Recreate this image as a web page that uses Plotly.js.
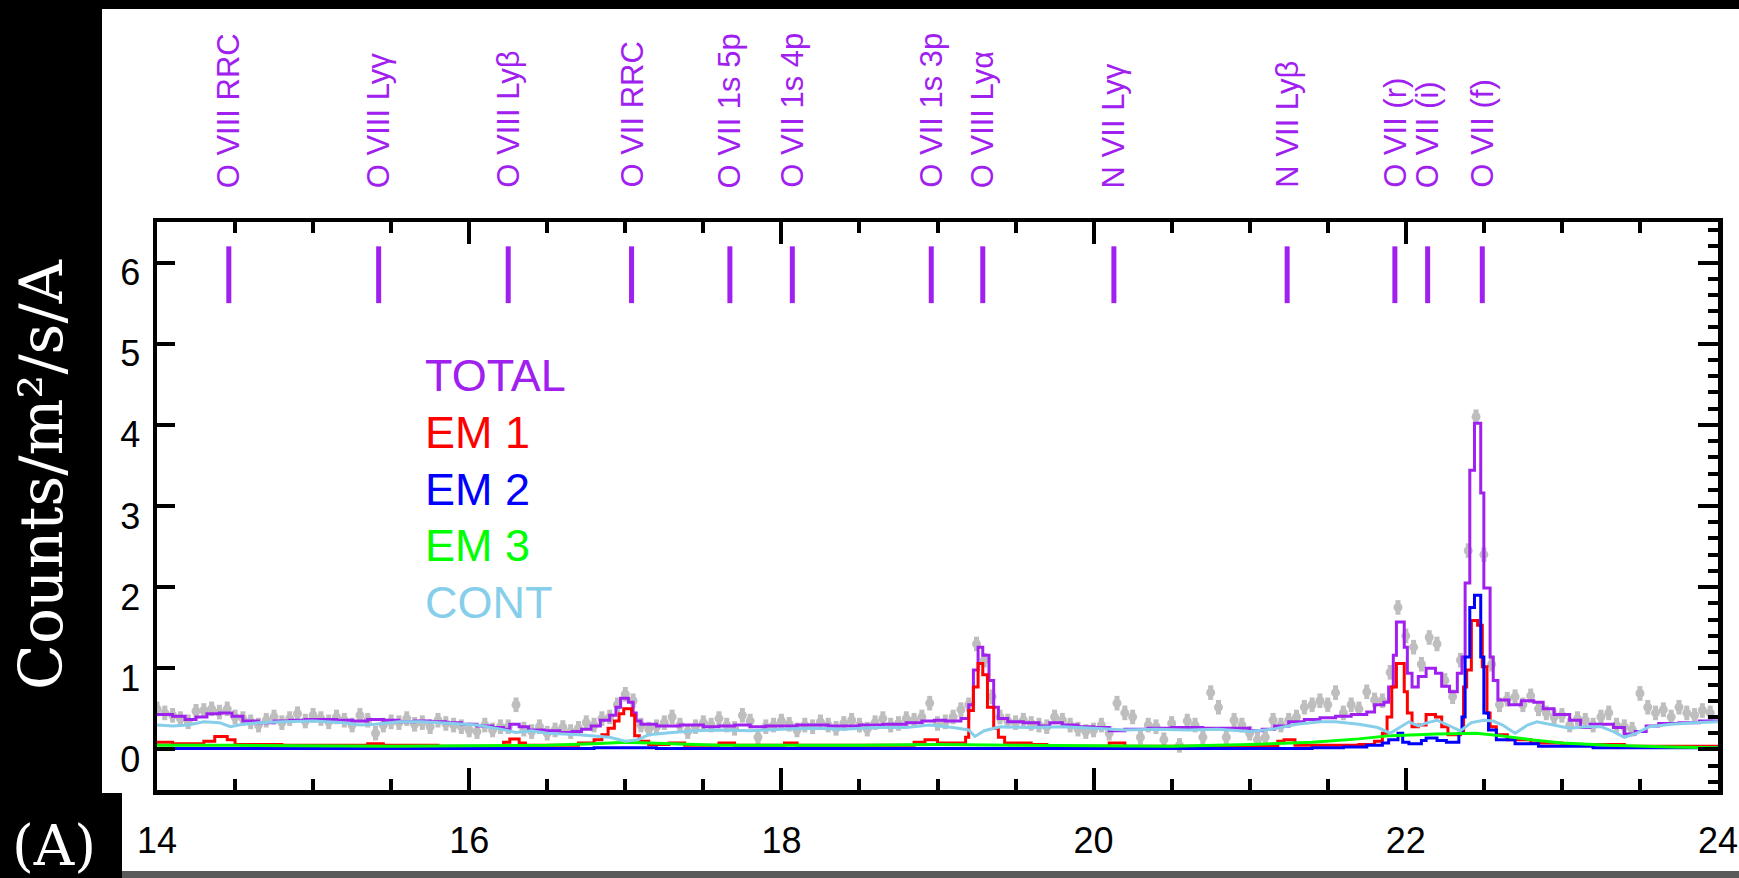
<!DOCTYPE html>
<html>
<head>
<meta charset="utf-8">
<script src="https://cdn.plot.ly/plotly-3.0.1.min.js"></script>
<style>html,body{margin:0;padding:0;background:#000;}#chart{width:1739px;height:878px;}</style>
</head>
<body>
<div id="chart"></div>
<script>
// ---------------- DATA ----------------
const lineNames = ['O VIII RRC','O VIII Lyγ','O VIII Lyβ','O VII RRC','O VII 1s 5p','O VII 1s 4p','O VII 1s 3p','O VIII Lyα','N VII Lyγ','N VII Lyβ','O VII (r)','O VII (i)','O VII (f)'];
const lineWave = [14.46,15.42,16.25,17.04,17.67,18.07,18.96,19.29,20.13,21.24,21.93,22.14,22.49];

const legendLabels = ['TOTAL','EM 1','EM 2','EM 3','CONT'];

// observed spectrum (grey points)
const dataX = [14.00,14.05,14.10,14.15,14.20,14.25,14.30,14.35,14.40,14.45,14.50,14.55,14.60,14.65,14.70,14.75,14.80,14.85,14.90,14.95,
15.00,15.05,15.10,15.15,15.20,15.25,15.30,15.35,15.40,15.45,15.50,15.55,15.60,15.65,15.70,15.75,15.80,15.85,15.90,15.95,
16.00,16.05,16.10,16.15,16.20,16.25,16.30,16.35,16.40,16.45,16.50,16.55,16.60,16.65,16.70,16.75,16.80,16.85,16.90,16.95,
17.00,17.05,17.10,17.15,17.20,17.25,17.30,17.35,17.40,17.45,17.50,17.55,17.60,17.65,17.70,17.75,17.80,17.85,17.90,17.95,
18.00,18.05,18.10,18.15,18.20,18.25,18.30,18.35,18.40,18.45,18.50,18.55,18.60,18.65,18.70,18.75,18.80,18.85,18.90,18.95,
19.00,19.05,19.10,19.15,19.20,19.25,19.30,19.35,19.40,19.45,19.50,19.55,19.60,19.65,19.70,19.75,19.80,19.85,19.90,19.95,
20.00,20.05,20.10,20.15,20.20,20.25,20.30,20.35,20.40,20.45,20.50,20.55,20.60,20.65,20.70,20.75,20.80,20.85,20.90,20.95,
21.00,21.05,21.10,21.15,21.20,21.25,21.30,21.35,21.40,21.45,21.50,21.55,21.60,21.65,21.70,21.75,21.80,21.85,21.90,21.95,
22.00,22.05,22.10,22.15,22.20,22.25,22.30,22.35,22.40,22.45,22.50,22.55,22.60,22.65,22.70,22.75,22.80,22.85,22.90,22.95,
23.00,23.05,23.10,23.15,23.20,23.25,23.30,23.35,23.40,23.45,23.50,23.55,23.60,23.65,23.70,23.75,23.80,23.85,23.90,23.95];
const dataY = [0.50,0.45,0.42,0.38,0.34,0.47,0.48,0.50,0.46,0.50,0.40,0.38,0.34,0.30,0.36,0.40,0.33,0.38,0.44,0.35,
0.42,0.38,0.34,0.40,0.36,0.30,0.42,0.36,0.20,0.30,0.34,0.33,0.38,0.31,0.33,0.28,0.36,0.32,0.30,0.28,
0.24,0.22,0.30,0.24,0.28,0.28,0.55,0.25,0.22,0.28,0.20,0.24,0.27,0.22,0.26,0.33,0.30,0.38,0.40,0.55,
0.68,0.60,0.30,0.25,0.28,0.33,0.40,0.30,0.22,0.28,0.33,0.30,0.38,0.30,0.26,0.42,0.35,0.15,0.28,0.30,
0.35,0.31,0.24,0.30,0.28,0.34,0.30,0.26,0.32,0.36,0.30,0.25,0.33,0.38,0.30,0.32,0.38,0.36,0.40,0.57,
0.32,0.34,0.40,0.49,0.55,1.30,1.10,0.65,0.40,0.35,0.33,0.36,0.32,0.30,0.28,0.40,0.36,0.30,0.25,0.22,
0.24,0.30,0.20,0.57,0.45,0.40,0.15,0.30,0.28,0.12,0.32,0.05,0.35,0.30,0.15,0.70,0.52,0.15,0.36,0.30,
0.20,0.12,0.15,0.36,0.30,0.36,0.40,0.52,0.55,0.60,0.55,0.70,0.45,0.55,0.50,0.71,0.61,0.60,0.95,1.75,
1.40,1.26,1.05,1.38,1.30,0.85,0.65,1.10,2.45,4.10,2.40,1.05,0.55,0.62,0.65,0.55,0.66,0.50,0.45,0.40,
0.42,0.30,0.38,0.36,0.30,0.40,0.45,0.30,0.28,0.25,0.69,0.52,0.45,0.49,0.40,0.52,0.45,0.42,0.48,0.45];
const dataErr = 0.09;

// TOTAL model (step)
const totalX = [14.00,14.10,14.18,14.25,14.32,14.40,14.48,14.55,14.65,14.75,14.85,14.95,15.05,15.15,15.25,15.35,15.45,15.55,15.65,15.75,15.85,15.95,
16.05,16.15,16.22,16.26,16.32,16.38,16.48,16.58,16.66,16.72,16.78,16.84,16.90,16.94,16.97,17.02,17.05,17.07,17.10,17.20,17.35,17.50,17.60,17.70,17.80,17.90,
18.00,18.10,18.30,18.50,18.65,18.80,18.90,18.98,19.05,19.15,19.20,19.23,19.26,19.29,19.33,19.36,19.39,19.45,19.55,19.65,19.72,19.80,19.90,
20.00,20.10,20.20,20.35,20.50,20.70,20.90,21.00,21.08,21.16,21.25,21.35,21.45,21.55,21.65,21.75,21.80,21.86,21.89,21.92,21.94,21.99,
22.01,22.04,22.08,22.13,22.19,22.23,22.28,22.33,22.36,22.38,22.41,22.44,22.48,22.50,22.54,22.56,22.59,22.66,22.74,22.82,22.88,22.95,
23.05,23.12,23.18,23.25,23.33,23.40,23.47,23.54,23.62,23.75,23.88,24.00];
const totalY = [0.43,0.41,0.37,0.40,0.44,0.45,0.41,0.35,0.33,0.35,0.36,0.37,0.37,0.36,0.35,0.37,0.36,0.34,0.35,0.34,0.33,0.31,
0.29,0.27,0.25,0.31,0.28,0.24,0.23,0.21,0.22,0.25,0.29,0.36,0.42,0.52,0.63,0.58,0.45,0.35,0.31,0.29,0.30,0.28,0.29,0.30,0.28,0.29,
0.29,0.30,0.29,0.30,0.31,0.33,0.35,0.36,0.35,0.38,0.55,0.98,1.26,1.16,0.85,0.52,0.38,0.34,0.33,0.29,0.33,0.30,0.28,
0.27,0.23,0.25,0.26,0.27,0.26,0.26,0.23,0.25,0.29,0.34,0.37,0.39,0.41,0.43,0.46,0.55,0.58,0.77,1.16,1.57,1.26,
0.94,0.77,0.90,1.00,0.94,0.78,0.71,0.94,1.14,2.05,3.44,4.02,3.16,1.99,1.14,0.85,0.61,0.55,0.60,0.58,0.50,0.43,
0.36,0.27,0.31,0.31,0.27,0.19,0.22,0.29,0.32,0.33,0.35,0.35];

// EM 1 (step)
const em1X = [14.00,14.10,14.30,14.37,14.45,14.50,14.80,15.35,15.45,15.80,16.22,16.26,16.32,16.36,16.70,16.80,16.85,16.89,16.93,16.96,16.99,17.04,17.06,17.09,17.15,
17.28,17.38,17.60,17.70,18.02,18.10,18.85,18.92,19.00,19.18,19.20,19.23,19.26,19.29,19.32,19.36,19.39,19.43,19.60,19.70,20.10,20.20,21.18,21.22,21.29,
21.70,21.80,21.85,21.88,21.91,21.94,21.99,22.01,22.04,22.08,22.13,22.19,22.23,22.27,22.35,22.37,22.39,22.42,22.46,22.49,22.52,22.54,22.58,22.65,22.80,
23.00,23.40,24.00];
const em1Y = [0.09,0.07,0.10,0.16,0.12,0.06,0.05,0.07,0.05,0.04,0.09,0.13,0.08,0.05,0.08,0.12,0.18,0.26,0.35,0.44,0.50,0.42,0.17,0.10,0.06,
0.08,0.05,0.08,0.05,0.08,0.05,0.09,0.12,0.08,0.15,0.48,0.77,1.06,0.92,0.52,0.26,0.15,0.08,0.06,0.04,0.08,0.04,0.10,0.12,0.05,
0.06,0.10,0.20,0.40,0.77,1.06,0.71,0.45,0.28,0.30,0.43,0.40,0.28,0.18,0.22,0.77,0.98,1.59,1.53,1.02,0.45,0.28,0.18,0.12,0.08,
0.06,0.04,0.03];

// EM 2 (step)
const em2X = [14.00,16.80,17.20,21.40,21.60,21.75,21.85,21.89,21.95,21.98,22.02,22.10,22.13,22.20,22.26,22.34,22.36,22.38,22.41,22.44,22.48,22.50,22.53,22.58,22.70,22.85,23.20,24.00];
const em2Y = [0.01,0.02,0.01,0.02,0.03,0.05,0.08,0.12,0.20,0.09,0.07,0.11,0.14,0.11,0.09,0.20,0.40,1.14,1.75,1.90,1.14,0.45,0.24,0.12,0.07,0.04,0.02,0.01];

// EM 3 (smooth)
const em3X = [14.00,14.50,15.50,16.50,16.80,17.00,17.30,17.60,18.50,19.00,19.50,20.50,21.00,21.40,21.70,21.90,22.20,22.45,22.60,22.80,23.00,23.30,23.70,24.00];
const em3Y = [0.05,0.05,0.04,0.05,0.07,0.09,0.07,0.05,0.05,0.06,0.05,0.04,0.06,0.09,0.13,0.17,0.19,0.20,0.17,0.12,0.08,0.05,0.03,0.02];

// CONT
const contX = [14.00,14.10,14.20,14.30,14.40,14.47,14.55,14.65,14.80,15.00,15.20,15.30,15.40,15.55,15.70,15.90,16.05,16.20,16.30,16.40,16.50,16.70,16.90,17.00,17.08,
17.15,17.30,17.45,17.60,17.80,18.00,18.20,18.40,18.60,18.80,18.95,19.10,19.20,19.24,19.30,19.40,19.60,19.80,20.00,20.20,20.40,20.60,20.80,21.00,21.15,
21.30,21.45,21.55,21.70,21.82,21.90,21.96,22.02,22.08,22.14,22.20,22.28,22.35,22.42,22.50,22.56,22.62,22.70,22.78,22.84,22.94,23.05,23.15,23.25,23.33,
23.40,23.48,23.56,23.70,23.85,24.00];
const contY = [0.30,0.29,0.30,0.34,0.33,0.28,0.31,0.33,0.34,0.35,0.33,0.30,0.31,0.34,0.34,0.32,0.30,0.25,0.21,0.23,0.20,0.18,0.15,0.10,0.12,
0.18,0.21,0.23,0.24,0.23,0.25,0.26,0.25,0.27,0.27,0.30,0.27,0.24,0.16,0.23,0.28,0.27,0.28,0.26,0.24,0.25,0.24,0.25,0.22,0.25,
0.31,0.34,0.34,0.31,0.27,0.20,0.27,0.34,0.29,0.33,0.36,0.29,0.23,0.33,0.36,0.35,0.30,0.20,0.30,0.34,0.30,0.26,0.28,0.28,0.22,
0.15,0.20,0.28,0.31,0.33,0.34];

const xTicks = [14,16,18,20,22,24];
const yTicks = [0,1,2,3,4,5,6];

// ---------------- STYLE ----------------
const PURPLE = '#a020f0', RED = '#ff0000', BLUE = '#0000ff', GREEN = '#00ff00', SKY = '#87ceeb', GREY = '#bebebe';
const legendColors = [PURPLE, RED, BLUE, GREEN, SKY];
const BAR_LO = 5.5, BAR_HI = 6.2;

// geometry of plot area in pixels
const W = 1739, H = 878, L = 157, R = 1718, T = 222, B = 790;
const pw = R - L, ph = B - T;
const px2x = p => (p - L) / pw;
const py2y = p => (B - p) / ph;

const barX = [], barY = [];
lineWave.forEach(w => { barX.push(w, w, null); barY.push(BAR_LO, BAR_HI, null); });

const traces = [
  {x: dataX, y: dataY, type: 'scatter', mode: 'markers',
   marker: {color: GREY, size: 9},
   error_y: {type: 'constant', value: dataErr, color: GREY, thickness: 5, width: 0},
   hoverinfo: 'skip'},
  {x: totalX, y: totalY, type: 'scatter', mode: 'lines', line: {color: PURPLE, width: 3, shape: 'hv'}},
  {x: em1X, y: em1Y, type: 'scatter', mode: 'lines', line: {color: RED, width: 3, shape: 'hv'}},
  {x: em2X, y: em2Y, type: 'scatter', mode: 'lines', line: {color: BLUE, width: 3, shape: 'hv'}},
  {x: em3X, y: em3Y, type: 'scatter', mode: 'lines', line: {color: GREEN, width: 3}},
  {x: contX, y: contY, type: 'scatter', mode: 'lines', line: {color: SKY, width: 3}},
  {x: barX, y: barY, type: 'scatter', mode: 'lines', yaxis: 'y2', line: {color: PURPLE, width: 5}, connectgaps: false}
];

const annotations = [];
lineNames.forEach((n, i) => {
  annotations.push({x: lineWave[i], xref: 'x', y: py2y(190), yref: 'paper', text: n, textangle: -90,
    xanchor: 'center', yanchor: 'bottom', showarrow: false,
    font: {family: 'Liberation Sans, Arial, sans-serif', size: 31, color: PURPLE}});
});
const legendCenters = [375, 432, 489, 545, 602];
legendLabels.forEach((t, i) => {
  annotations.push({x: px2x(423), xref: 'paper', y: py2y(legendCenters[i]), yref: 'paper', text: t,
    xanchor: 'left', yanchor: 'middle', showarrow: false,
    font: {family: 'Liberation Sans, Arial, sans-serif', size: 45, color: legendColors[i]}});
});
annotations.push({x: px2x(41), xref: 'paper', y: py2y(475), yref: 'paper', text: 'Counts/m²/s/A', textangle: -90,
  xanchor: 'center', yanchor: 'middle', showarrow: false,
  font: {family: 'DejaVu Serif, serif', size: 60, color: '#ffffff'}});
annotations.push({x: px2x(54), xref: 'paper', y: py2y(845), yref: 'paper', text: '(A)',
  xanchor: 'center', yanchor: 'middle', showarrow: false,
  font: {family: 'DejaVu Serif, serif', size: 56, color: '#ffffff'}});

const shapes = [
  {type: 'rect', xref: 'paper', yref: 'paper', x0: px2x(102), x1: px2x(W), y0: py2y(793), y1: py2y(9), fillcolor: '#ffffff', line: {width: 0}, layer: 'below'},
  {type: 'rect', xref: 'paper', yref: 'paper', x0: px2x(122), x1: px2x(W), y0: py2y(871), y1: py2y(793), fillcolor: '#ffffff', line: {width: 0}, layer: 'below'},
  {type: 'rect', xref: 'paper', yref: 'paper', x0: px2x(122), x1: px2x(W), y0: py2y(H), y1: py2y(871), fillcolor: '#5a5a5a', line: {width: 0}, layer: 'below'}
];

const tickFont = {family: 'Liberation Sans, Arial, sans-serif', size: 36, color: '#000'};
const layout = {
  width: W, height: H,
  margin: {l: L, r: W - R, t: T, b: H - B, pad: 0},
  paper_bgcolor: '#000000', plot_bgcolor: 'rgba(0,0,0,0)',
  showlegend: false,
  xaxis: {range: [14, 24], tickvals: xTicks, ticktext: xTicks.map(String), ticks: 'inside', ticklen: 22, tickwidth: 4,
    tickcolor: '#000', showline: true, linewidth: 4.5, linecolor: '#000', mirror: 'ticks', showgrid: false, zeroline: false,
    tickfont: tickFont, ticklabelstandoff: 15,
    minor: {dtick: 0.5, ticks: 'inside', ticklen: 11, tickwidth: 4, tickcolor: '#000', showgrid: false}},
  yaxis: {range: [-0.5, 6.5], tickvals: yTicks, ticks: 'inside', ticklen: 18, tickwidth: 4, tickcolor: '#000',
    showline: true, linewidth: 4.5, linecolor: '#000', showgrid: false, zeroline: false, tickfont: tickFont,
    ticklabelstandoff: 5, ticklabelshift: 10},
  yaxis2: {range: [-0.5, 6.5], overlaying: 'y', side: 'right', dtick: 1, tick0: 0, ticks: 'inside', ticklen: 20, tickwidth: 4,
    tickcolor: '#000', showline: true, linewidth: 4.5, linecolor: '#000', showgrid: false, zeroline: false, showticklabels: false,
    minor: {dtick: 0.2, ticks: 'inside', ticklen: 10, tickwidth: 4, tickcolor: '#000', showgrid: false}},
  annotations: annotations,
  shapes: shapes
};

Plotly.newPlot('chart', traces, layout, {staticPlot: true, displayModeBar: false});
</script>
</body>
</html>
